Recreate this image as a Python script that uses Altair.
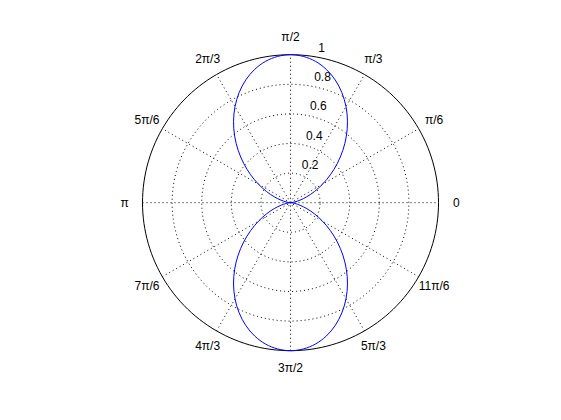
import altair as alt
import numpy as np
import pandas as pd

# curve r(theta), theta in degrees 0..360 step 5
curve_deg = list(range(0, 361, 5))
curve_r = [0.000, 0.008, 0.030, 0.067, 0.117, 0.179, 0.250, 0.329, 0.413, 0.500,
           0.587, 0.671, 0.750, 0.821, 0.883, 0.933, 0.970, 0.992, 1.000,
           0.992, 0.970, 0.933, 0.883, 0.821, 0.750, 0.671, 0.587, 0.500, 0.413,
           0.329, 0.250, 0.179, 0.117, 0.067, 0.030, 0.008, 0.000,
           0.008, 0.030, 0.067, 0.117, 0.179, 0.250, 0.329, 0.413, 0.500,
           0.587, 0.671, 0.750, 0.821, 0.883, 0.933, 0.970, 0.992, 1.000,
           0.992, 0.970, 0.933, 0.883, 0.821, 0.750, 0.671, 0.587, 0.500, 0.413,
           0.329, 0.250, 0.179, 0.117, 0.067, 0.030, 0.008, 0.000]

ring_values = [0.2, 0.4, 0.6, 0.8]
ring_labels = ["0.2", "0.4", "0.6", "0.8", "1"]
ring_label_r = [0.2, 0.4, 0.6, 0.8, 1.0]
outer_r = 1.0
spoke_deg = [0, 30, 60, 90, 120, 150]
angle_deg = [0, 30, 60, 90, 120, 150, 180, 210, 240, 270, 300, 330]
angle_labels = ["0", "π/6", "π/3", "π/2", "2π/3", "5π/6", "π",
                "7π/6", "4π/3", "3π/2", "5π/3", "11π/6"]

W, H = 545, 404
xs = alt.Scale(domain=[-1.9088, 1.7736], nice=False, zero=False)
ys = alt.Scale(domain=[-1.4142, 1.3155], nice=False, zero=False)

def X(f):
    return alt.X(f, type="quantitative", scale=xs, axis=None)

def Y(f):
    return alt.Y(f, type="quantitative", scale=ys, axis=None)

# ring geometry
ga = np.arange(0, 361, 2)
rings = pd.DataFrame([{"ring": r, "a": a} for r in ring_values for a in ga])
outer = pd.DataFrame([{"ring": outer_r, "a": a} for a in ga])

ring_layer = alt.Chart(rings).transform_calculate(
    x="datum.ring*cos(datum.a*PI/180)", y="datum.ring*sin(datum.a*PI/180)"
).mark_line(color="black", strokeWidth=1, strokeDash=[1, 3]).encode(
    x=X("x:Q"), y=Y("y:Q"), detail="ring:N", order="a:Q")

outer_layer = alt.Chart(outer).transform_calculate(
    x="datum.ring*cos(datum.a*PI/180)", y="datum.ring*sin(datum.a*PI/180)"
).mark_line(color="black", strokeWidth=1).encode(
    x=X("x:Q"), y=Y("y:Q"), order="a:Q")

spokes = alt.Chart(pd.DataFrame({"a": spoke_deg})).transform_calculate(
    x="-cos(datum.a*PI/180)", y="-sin(datum.a*PI/180)",
    x2="cos(datum.a*PI/180)", y2="sin(datum.a*PI/180)"
).mark_rule(color="black", strokeWidth=1, strokeDash=[1, 3]).encode(
    x=X("x:Q"), y=Y("y:Q"), x2="x2:Q", y2="y2:Q")

curve = alt.Chart(pd.DataFrame({"a": curve_deg, "r": curve_r})).transform_calculate(
    x="datum.r*cos(datum.a*PI/180)", y="datum.r*sin(datum.a*PI/180)"
).mark_line(color="#0000ff", strokeWidth=1, interpolate="catmull-rom").encode(
    x=X("x:Q"), y=Y("y:Q"), order="a:Q")

alabels = alt.Chart(pd.DataFrame({"a": angle_deg, "t": angle_labels})).transform_calculate(
    x="1.12*cos(datum.a*PI/180)", y="1.12*sin(datum.a*PI/180)"
).mark_text(font="Liberation Sans", fontSize=12, color="black",
            align="center", baseline="middle").encode(
    x=X("x:Q"), y=Y("y:Q"), text="t:N")

rlabels = alt.Chart(pd.DataFrame({"r": ring_label_r, "t": ring_labels})).transform_calculate(
    x="(datum.r+0.01)*cos(82*PI/180)", y="(datum.r+0.01)*sin(82*PI/180)"
).mark_text(font="Liberation Sans", fontSize=12, color="black",
            align="left", baseline="bottom", dx=7).encode(
    x=X("x:Q"), y=Y("y:Q"), text="t:N")

chart = alt.layer(ring_layer, spokes, outer_layer, curve, alabels, rlabels).properties(
    width=W, height=H, padding=0, autosize=alt.AutoSizeParams(type="none")
).configure_view(stroke=None)

chart.save("out.html", embed_options={"renderer": "svg", "actions": False})
